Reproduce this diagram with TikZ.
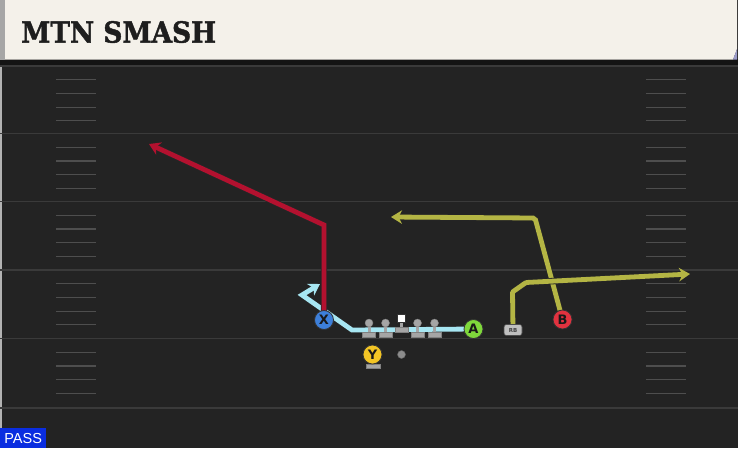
\documentclass[tikz,border=0pt]{standalone}
\usepackage{fontspec}
\newfontfamily\titlefont{DejaVu Serif}[BoldFeatures={FakeBold=1.6}]
\newfontfamily\lblfont{DejaVu Sans}
\newfontfamily\passfont{Liberation Sans}
\usetikzlibrary{arrows.meta}
\pgfdeclarelayer{fieldlayer}
\pgfdeclarelayer{routelayer}
\pgfsetlayers{fieldlayer,routelayer,main}
\definecolor{fieldbg}{HTML}{232323}
\definecolor{yardcol}{HTML}{3A3A3A}
\definecolor{cream}{HTML}{F4F1EA}
\definecolor{titlecol}{HTML}{1E1E1E}
\definecolor{redroute}{HTML}{B3112F}
\definecolor{yelroute}{HTML}{B4B544}
\definecolor{blueroute}{HTML}{A7E6F2}
\definecolor{xblue}{HTML}{3D7FD9}
\definecolor{agreen}{HTML}{7FD83B}
\definecolor{bred}{HTML}{E1323F}
\definecolor{yyellow}{HTML}{F3C525}
\definecolor{olgray}{HTML}{A5A5A5}
\definecolor{passblue}{HTML}{0A2DE0}
\tikzset{
  yard/.style={draw=yardcol, line width=1.6pt},
  hashmark/.style={draw=yardcol!90, line width=1.2pt},
  route/.style={line width=4.8pt, line join=miter,
    preaction={draw=black!85, line width=6.4pt}},
  tip/.style={-{Stealth[length=11pt,width=13.5pt,inset=3.5pt]}},
  player/.style={circle, minimum size=19pt, inner sep=0pt, draw=black!80, line width=0.8pt,
    font=\lblfont\bfseries\fontsize{13}{13}\selectfont, text=black!90},
  rbbox/.style={rounded corners=2.5pt, minimum width=18pt, minimum height=11pt, inner sep=0pt,
    fill=black!25, draw=black!70, line width=0.6pt, text=black!75,
    font=\lblfont\bfseries\fontsize{5.5}{5.5}\selectfont},
  head/.style={circle, minimum size=8pt, inner sep=0pt, fill=olgray, draw=black!50, line width=0.4pt},
  olbar/.style={fill=olgray, draw=black!50, line width=0.4pt},
}
\begin{document}
\begin{tikzpicture}[x=1pt,y=-1pt]
\useasboundingbox (0,0) rectangle (738,448);
\begin{pgfonlayer}{fieldlayer}
\fill[fieldbg] (0,0) rectangle (738,448);
\fill[black!30] (0,59) rectangle (2,448);
\foreach \y in {66,133.5,201.5,270,338.5,408} \draw[yard] (0,\y) -- (738,\y);
\foreach \y in {66,133.5,201.5,270,338.5} {
  \foreach \k in {1,2,3,4} {
    \draw[hashmark] (56,{\y+13.7*\k}) -- (96,{\y+13.7*\k});
    \draw[hashmark] (646,{\y+13.7*\k}) -- (686,{\y+13.7*\k});
  }
}
\fill[black!92] (0,59) rectangle (738,64.5);
\fill[cream] (5,0) -- (737,0) -- (737,49) -- (733,59.5) -- (5,59.5) -- cycle;
\fill[gray!70!blue!60] (733,59.5) -- (737,49) -- (737,59.5) -- cycle;
\fill[black!35] (0,0) rectangle (5,59.5);
\end{pgfonlayer}
\node[anchor=base west, inner sep=0pt, text=titlecol,
  font=\titlefont\bfseries\fontsize{29}{29}\selectfont] (title) at (21,42.6)
  {\scalebox{0.91}[1]{MTN SMASH}};

% players
\node[player, fill=xblue] (X) at (324,320) {X};
\node[player, fill=agreen] (A) at (473.5,329) {A};
\node[player, fill=bred] (B) at (562.5,319.5) {B};
\node[rbbox] (RB) at (513,330) {RB};

% offensive line
\foreach \x/\n in {369/LT,385.5/LG,417.5/RG,434.5/RT} {
  \fill[olgray] (\x-1.5,323) rectangle (\x+1.5,334);
  \draw[olbar] (\x-6.5,332.5) rectangle (\x+6.5,337);
  \node[head] (\n) at (\x,323) {};
}
\fill[olgray] (400,321) rectangle (403,329);
\draw[olbar] (395,327.5) rectangle (408,331.7);
\node[draw=black!80, fill=white, line width=0.6pt, minimum size=8.5pt, inner sep=0pt] (C) at (401.3,318.3) {};

% Y stance bar and QB
\fill[olgray] (371,360) rectangle (374,365);
\draw[olbar] (365.7,364.3) rectangle (379.7,368.3);
\node[player, fill=yyellow] (Y) at (372.5,354.5) {Y};
\node[circle, minimum size=8pt, inner sep=0pt, fill=black!45, draw=black!60, line width=0.4pt] (QB) at (401.5,354.5) {};

% route coordinates
\coordinate (m1) at (352,330);
\coordinate (m2) at (302,295);
\coordinate (m3) at (320,284);
\coordinate (r1) at (324,225);
\coordinate (r2) at (149,144);
\coordinate (b1) at (535,218);
\coordinate (b2) at (391,217);
\coordinate (h1) at (512.5,292);
\coordinate (h2) at (526,282.5);
\coordinate (h3) at (690,274);

\begin{pgfonlayer}{routelayer}
\draw[route, draw=blueroute, tip] (A.center) -- (m1) -- (m2) -- (m3);
\draw[route, draw=redroute, tip] (X.center) -- (r1) -- (r2);
\draw[route, draw=yelroute, tip, rounded corners=2pt] (B.center) -- (b1) -- (b2);
\draw[route, draw=yelroute, tip, rounded corners=1pt] (RB.center) -- (h1) -- (h2) -- (h3);
\end{pgfonlayer}

% PASS badge
\node[anchor=north west, fill=passblue, text=white, minimum width=46pt, minimum height=20pt,
  inner sep=0pt, font=\passfont\fontsize{14.5}{14.5}\selectfont] (pass) at (0,428) {PASS};
\end{tikzpicture}
\end{document}
